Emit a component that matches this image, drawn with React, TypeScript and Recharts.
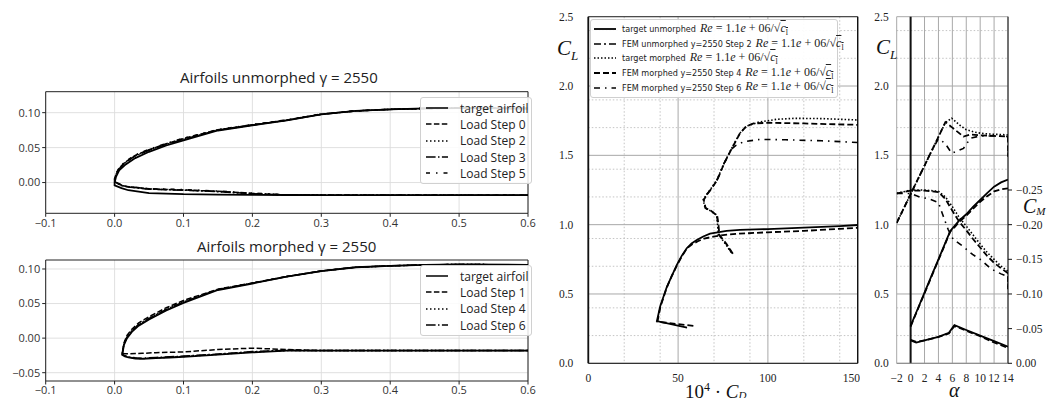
import React from 'react'
import { LineChart, Line, XAxis, YAxis, CartesianGrid, ReferenceLine } from 'recharts'

// ---------- airfoil sections (x/c, y/c) ----------
const unmUpperX = [0.6, 0.5, 0.45, 0.4, 0.35, 0.3, 0.25, 0.2, 0.15, 0.1, 0.075, 0.05, 0.03, 0.015, 0.007, 0.002, 0]
const unmLowerX = [0, 0.01, 0.02, 0.05, 0.1, 0.15, 0.2, 0.25, 0.3, 0.6]

const unmTargetUp = [0.106, 0.1065, 0.106, 0.1047, 0.1025, 0.0976, 0.089, 0.082, 0.0745, 0.0605, 0.053, 0.044, 0.035, 0.025, 0.018, 0.008, 0]
const unmTargetLo = [-0.004, -0.008, -0.011, -0.015, -0.0167, -0.0172, -0.0176, -0.0178, -0.018, -0.018]
const step0Up = [0.106, 0.1065, 0.106, 0.1047, 0.1025, 0.0978, 0.0895, 0.0825, 0.0755, 0.063, 0.0555, 0.047, 0.039, 0.029, 0.021, 0.012, 0.005]
const step0Lo = [0.002, -0.004, -0.006, -0.009, -0.0105, -0.0125, -0.0155, -0.0178, -0.018, -0.018]
const step2Up = [0.106, 0.1065, 0.106, 0.1047, 0.1025, 0.0978, 0.0893, 0.0823, 0.0752, 0.0625, 0.055, 0.0465, 0.0385, 0.0285, 0.0205, 0.0115, 0.005]
const step2Lo = [0.002, -0.0042, -0.0062, -0.0092, -0.0108, -0.0128, -0.0158, -0.0178, -0.018, -0.018]
const step3Up = [0.106, 0.1065, 0.106, 0.1047, 0.1025, 0.0977, 0.0892, 0.0822, 0.075, 0.062, 0.0545, 0.046, 0.038, 0.028, 0.02, 0.011, 0.004]
const step3Lo = [0.001, -0.0045, -0.0065, -0.0095, -0.011, -0.013, -0.016, -0.0178, -0.018, -0.018]
const step5Up = [0.106, 0.1065, 0.106, 0.1047, 0.1025, 0.0979, 0.0896, 0.0828, 0.0758, 0.0635, 0.056, 0.0475, 0.0395, 0.0295, 0.0215, 0.0125, 0.006]
const step5Lo = [0.003, -0.0038, -0.0058, -0.0088, -0.0102, -0.0122, -0.0152, -0.0175, -0.018, -0.018]

const morUpperX = [0.6, 0.5, 0.45, 0.4, 0.35, 0.3, 0.25, 0.2, 0.15, 0.1, 0.075, 0.05, 0.035, 0.025, 0.018, 0.0136, 0.011]
const morLowerX = [0.011, 0.015, 0.02, 0.03, 0.04, 0.06, 0.08, 0.1, 0.15, 0.2, 0.25, 0.3, 0.6]

const morTargetUp = [0.106, 0.1065, 0.106, 0.1045, 0.1025, 0.097, 0.0888, 0.079, 0.0696, 0.051, 0.04, 0.027, 0.018, 0.009, 0.0, -0.0097, -0.024]
const morTargetLo = [-0.024, -0.0265, -0.028, -0.0295, -0.03, -0.029, -0.028, -0.027, -0.024, -0.0207, -0.018, -0.018, -0.018]
const step1Up = [0.106, 0.1065, 0.106, 0.1045, 0.1025, 0.0972, 0.0892, 0.0798, 0.0708, 0.0545, 0.044, 0.031, 0.022, 0.013, 0.004, -0.007, -0.022]
const step1Lo = [-0.022, -0.0225, -0.0225, -0.0223, -0.022, -0.021, -0.0205, -0.02, -0.0165, -0.0145, -0.0165, -0.018, -0.018]
const step4Up = [0.106, 0.1065, 0.106, 0.1045, 0.1025, 0.0971, 0.089, 0.0794, 0.0702, 0.053, 0.042, 0.029, 0.02, 0.011, 0.002, -0.008, -0.023]
const step4Lo = [-0.023, -0.026, -0.0275, -0.029, -0.0295, -0.0285, -0.0275, -0.0265, -0.0235, -0.02, -0.018, -0.018, -0.018]
const step6Up = [0.106, 0.1065, 0.106, 0.1045, 0.1025, 0.0971, 0.0891, 0.0796, 0.0705, 0.0525, 0.0415, 0.0285, 0.0195, 0.0105, 0.0015, -0.0085, -0.023]
const step6Lo = [-0.023, -0.0255, -0.027, -0.0285, -0.029, -0.028, -0.027, -0.026, -0.023, -0.0195, -0.0175, -0.018, -0.018]

const foilXTicks = [-0.1, 0, 0.1, 0.2, 0.3, 0.4, 0.5, 0.6]
const foilTopYTicks = [0, 0.05, 0.1]
const foilBotYTicks = [-0.05, 0, 0.05, 0.1]

// ---------- drag polar (10^4 CD, CL) ----------
const polUnmTargetCD = [55, 38.2, 40, 43.7, 46.5, 49.3, 52, 54.8, 57.5, 60.4, 64, 67.8, 72, 77, 84.4, 100, 120, 140, 160]
const polUnmTargetCL = [0.257, 0.305, 0.41, 0.55, 0.63, 0.71, 0.775, 0.83, 0.865, 0.89, 0.915, 0.935, 0.945, 0.955, 0.962, 0.968, 0.978, 0.99, 1.005]
const polUnmFemCD = [58.5, 38.5, 40.2, 43.8, 46.5, 49.5, 52.2, 55, 58, 61, 64.5, 69.6, 75, 84, 100, 120, 140, 160]
const polUnmFemCL = [0.27, 0.3, 0.41, 0.55, 0.63, 0.71, 0.775, 0.83, 0.86, 0.88, 0.9, 0.913, 0.925, 0.935, 0.945, 0.955, 0.97, 0.985]
const polMorTargetCD = [79.5, 76.1, 72.4, 72, 71.5, 68, 65, 64, 66, 67.8, 71.5, 75.5, 79.4, 84.4, 88, 95, 105, 115, 130, 150, 165]
const polMorTargetCL = [0.8, 0.866, 0.93, 1.0, 1.07, 1.1, 1.12, 1.18, 1.22, 1.25, 1.32, 1.44, 1.54, 1.66, 1.71, 1.74, 1.76, 1.767, 1.765, 1.755, 1.75]
const polStep4CD = [80.5, 77, 73, 72.5, 71.8, 68.3, 65.3, 64.3, 66.2, 68, 71.7, 75.6, 79.5, 84.5, 88, 92, 100, 120, 150, 165]
const polStep4CL = [0.79, 0.86, 0.925, 0.995, 1.065, 1.1, 1.12, 1.18, 1.22, 1.25, 1.32, 1.44, 1.54, 1.66, 1.71, 1.73, 1.735, 1.73, 1.72, 1.715]
const polStep6CD = [80, 76.5, 72.8, 72.2, 71.6, 68.1, 65.2, 64.2, 66.1, 67.9, 71.6, 75.5, 79.4, 82, 86.5, 95.5, 110, 130, 150, 165]
const polStep6CL = [0.795, 0.862, 0.928, 0.998, 1.068, 1.1, 1.12, 1.18, 1.22, 1.25, 1.32, 1.44, 1.54, 1.57, 1.598, 1.615, 1.612, 1.605, 1.593, 1.585]

const polXTicks = [0, 50, 100, 150]
const polXMinor = [10, 20, 30, 40, 60, 70, 80, 90, 110, 120, 130, 140]
const clTicks = [0, 0.5, 1.0, 1.5, 2.0, 2.5]
const clMinor = [0.1, 0.2, 0.3, 0.4, 0.6, 0.7, 0.8, 0.9, 1.1, 1.2, 1.3, 1.4, 1.6, 1.7, 1.8, 1.9, 2.1, 2.2, 2.3, 2.4]

// ---------- lift / moment vs alpha ----------
const aUnm = [0, 1, 2, 3, 4, 5, 5.7, 6.3, 7, 8, 9, 10, 11, 12, 13, 14]
const clUnmTarget = [0.27, 0.39, 0.51, 0.63, 0.75, 0.87, 0.955, 0.99, 1.03, 1.075, 1.13, 1.178, 1.228, 1.274, 1.305, 1.325]
const clUnmFem = [0.265, 0.385, 0.505, 0.625, 0.745, 0.865, 0.95, 0.98, 1.02, 1.065, 1.115, 1.165, 1.205, 1.24, 1.255, 1.262]
const aMor = [-2, -1, 0, 1, 2, 3, 4, 5, 5.9, 7, 8, 9, 10, 11, 12, 13, 14]
const clMorTarget = [1.013, 1.116, 1.22, 1.323, 1.426, 1.53, 1.633, 1.736, 1.768, 1.72, 1.685, 1.67, 1.66, 1.655, 1.652, 1.65, 1.647]
const aStep4 = [-2, -1, 0, 1, 2, 3, 4, 5, 6, 7.6, 8.6, 10, 12, 14, 14]
const clStep4 = [1.013, 1.116, 1.22, 1.323, 1.426, 1.53, 1.633, 1.74, 1.7, 1.635, 1.65, 1.645, 1.64, 1.635, 1.49]
const aStep6 = [-2, -1, 0, 1, 2, 3, 4, 4.95, 5.9, 7.6, 8.6, 10, 12, 14, 14]
const clStep6 = [1.013, 1.116, 1.22, 1.323, 1.426, 1.53, 1.62, 1.587, 1.515, 1.55, 1.623, 1.64, 1.64, 1.635, 1.5]

const aCmUnm = [0, 0.8, 2, 4, 5.5, 6.3, 8, 10, 12, 14]
const cmUnmTarget = [-0.033, -0.03, -0.033, -0.038, -0.044, -0.055, -0.048, -0.04, -0.032, -0.024]
const cmUnmFem = [-0.034, -0.031, -0.033, -0.038, -0.043, -0.054, -0.047, -0.039, -0.03, -0.022]
const aCmMor = [-2, 0, 2, 4, 5, 6, 7, 8, 9, 10, 11, 12, 13, 14, 14]
const cmMorTarget = [-0.245, -0.25, -0.25, -0.248, -0.24, -0.226, -0.21, -0.198, -0.185, -0.172, -0.16, -0.15, -0.14, -0.133, -0.11]
const cmStep4 = [-0.245, -0.249, -0.249, -0.247, -0.237, -0.22, -0.204, -0.192, -0.179, -0.167, -0.155, -0.145, -0.137, -0.13, -0.107]
const aCmStep6 = [-2, 0, 1.3, 2.7, 4, 4.7, 5.4, 6.1, 7.5, 8.9, 10, 11.6, 13, 14, 14]
const cmStep6 = [-0.245, -0.245, -0.24, -0.237, -0.232, -0.212, -0.193, -0.179, -0.169, -0.157, -0.15, -0.136, -0.129, -0.125, -0.11]

const alphaTicks = [-2, 0, 2, 4, 6, 8, 10, 12, 14]
const cmTicks = [-0.25, -0.2, -0.15, -0.1, -0.05, 0]

const pts = (xs: number[], ys: number[]) => xs.map((x, i) => ({ x, y: ys[i] }))
const foil = (ux: number[], uy: number[], lx: number[], ly: number[]) => [...pts(ux, uy), ...pts(lx, ly)]
const minus = (s: string) => s.replace('-', '\u2212')

const SANS = 'Open Sans'
const SERIF = 'Liberation Serif'

const foilTick = { fontSize: 11, fill: '#333', fontFamily: SANS }
const serifTick = { fontSize: 11.5, fill: '#222', fontFamily: SERIF }

function Sample({ dash, width = 1.5 }: { dash?: string; width?: number }) {
  return (
    <svg width={22} height={8} style={{ display: 'block' }}>
      <line x1={0} y1={4} x2={22} y2={4} stroke="#000" strokeWidth={width} strokeDasharray={dash} />
    </svg>
  )
}

function FoilLegend({ top, rows }: { top: number; rows: { label: string; dash?: string; w?: number }[] }) {
  return (
    <div style={{ position: 'absolute', left: 420, top, width: 110, padding: '2px 0', background: 'rgba(255,255,255,0.85)', border: '1px solid #d0d0d0', borderRadius: 3, fontFamily: SANS, fontSize: 12, color: '#222' }}>
      {rows.map(r => (
        <div key={r.label} style={{ display: 'flex', alignItems: 'center', height: 16.3 }}>
          <div style={{ marginLeft: 5, marginRight: 12 }}><Sample dash={r.dash} width={r.w} /></div>
          <span>{r.label}</span>
        </div>
      ))}
    </div>
  )
}

const DASH = '5.5 2.4'
const DOT = '1.5 2.5'
const DASHDOT = '9.6 2.4 1.5 2.4'
const SPARSE = '4 6 1.5 6'

function FoilPanel(props: { top: number; height: number; plotTop: number; plotH: number; domain: [number, number]; yTicks: number[]; series: { d: { x: number; y: number }[]; dash?: string; w: number }[] }) {
  const { top, height, plotTop, plotH, domain, yTicks, series } = props
  return (
    <div style={{ position: 'absolute', left: 0, top }}>
      <LineChart width={545} height={height} margin={{ top: plotTop, right: 17, bottom: 0, left: 0 }}>
        <CartesianGrid stroke="#dcdcdc" strokeWidth={0.9} verticalValues={foilXTicks} horizontalValues={yTicks} syncWithTicks={false} />
        <XAxis type="number" dataKey="x" domain={[-0.1, 0.6]} ticks={foilXTicks} allowDataOverflow height={height - plotTop - plotH}
          tick={foilTick} tickFormatter={(v: number) => minus(v.toFixed(1))} tickSize={3.5} tickMargin={2} stroke="#222" />
        <YAxis type="number" domain={domain} ticks={yTicks} allowDataOverflow width={45.7}
          tick={foilTick} tickFormatter={(v: number) => minus(v.toFixed(2))} tickSize={3.5} tickMargin={2} stroke="#222" />
        <ReferenceLine y={domain[1]} stroke="#222" />
        <ReferenceLine x={0.6} stroke="#222" />
        {series.map((s, i) => (
          <Line key={i} data={s.d} dataKey="y" stroke="#000" strokeWidth={s.w} strokeDasharray={s.dash} dot={false} isAnimationActive={false} />
        ))}
      </LineChart>
    </div>
  )
}

const S_TU = { dash: undefined, w: 1.8 }
const S_F2 = { dash: '7 3 2 3', w: 1.6 }
const S_TM = { dash: '1.5 2', w: 1.6 }
const S_F4 = { dash: '6 3', w: 1.8 }
const S_F6 = { dash: '6 5 1.5 5', w: 1.6 }

function PolarLegend() {
  const math = <span style={{ fontFamily: SERIF, fontSize: 12 }}><i>Re</i> = 1.1<i>e</i> + 06/√<span style={{ textDecoration: 'overline' }}><i>c</i><sub style={{ fontSize: 8 }}>l</sub></span></span>
  const rows = [
    { label: 'target unmorphed', s: S_TU },
    { label: 'FEM unmorphed y=2550 Step 2', s: S_F2 },
    { label: 'target morphed', s: S_TM },
    { label: 'FEM morphed y=2550 Step 4', s: S_F4 },
    { label: 'FEM morphed y=2550 Step 6', s: S_F6 },
  ]
  return (
    <div style={{ position: 'absolute', left: 590, top: 19, width: 248, height: 79, boxSizing: 'border-box', paddingTop: 2, background: 'rgba(255,255,255,0.92)', border: '1px solid #cfcfcf', borderRadius: 3, color: '#222' }}>
      {rows.map(r => (
        <div key={r.label} style={{ display: 'flex', alignItems: 'center', height: 14.6, whiteSpace: 'nowrap' }}>
          <div style={{ marginLeft: 3, marginRight: 6 }}><Sample dash={r.s.dash} width={r.s.w} /></div>
          <span style={{ fontFamily: 'DejaVu Sans', fontSize: 8.1, marginRight: 4 }}>{r.label}</span>
          {math}
        </div>
      ))}
    </div>
  )
}

const lbl = (left: number, top: number, size: number, content: React.ReactNode, lh: string | number = 1) => (
  <div style={{ position: 'absolute', left, top, fontFamily: SERIF, fontSize: size, lineHeight: lh, color: '#111', whiteSpace: 'nowrap' }}>{content}</div>
)

export default function App() {
  const unmSeries = [
    { d: foil(unmUpperX, step0Up, unmLowerX, step0Lo), dash: DASH, w: 1.5 },
    { d: foil(unmUpperX, step2Up, unmLowerX, step2Lo), dash: DOT, w: 1.5 },
    { d: foil(unmUpperX, step3Up, unmLowerX, step3Lo), dash: DASHDOT, w: 1.5 },
    { d: foil(unmUpperX, step5Up, unmLowerX, step5Lo), dash: SPARSE, w: 1.6 },
    { d: foil(unmUpperX, unmTargetUp, unmLowerX, unmTargetLo), dash: undefined, w: 1.8 },
  ]
  const morSeries = [
    { d: foil(morUpperX, step1Up, morLowerX, step1Lo), dash: DASH, w: 1.5 },
    { d: foil(morUpperX, step4Up, morLowerX, step4Lo), dash: DOT, w: 1.5 },
    { d: foil(morUpperX, step6Up, morLowerX, step6Lo), dash: DASHDOT, w: 1.5 },
    { d: foil(morUpperX, morTargetUp, morLowerX, morTargetLo), dash: undefined, w: 1.8 },
  ]

  return (
    <div style={{ position: 'absolute', left: 0, top: 0, width: 1049, height: 398, background: '#fff', overflow: 'hidden' }}>
      <div style={{ position: 'absolute', left: 180, top: 67, fontFamily: SANS, fontSize: 15, color: '#222' }}>Airfoils unmorphed γ = 2550</div>
      <div style={{ position: 'absolute', left: 197, top: 236, fontFamily: SANS, fontSize: 15, color: '#222' }}>Airfoils morphed γ = 2550</div>

      <FoilPanel top={85} height={160} plotTop={6.7} plotH={121.6} domain={[-0.044, 0.13]} yTicks={foilTopYTicks} series={unmSeries} />
      <FoilPanel top={250} height={148} plotTop={10} plotH={121} domain={[-0.062, 0.113]} yTicks={foilBotYTicks} series={morSeries} />

      <FoilLegend top={97} rows={[
        { label: 'target airfoil' }, { label: 'Load Step 0', dash: DASH }, { label: 'Load Step 2', dash: DOT },
        { label: 'Load Step 3', dash: DASHDOT }, { label: 'Load Step 5', dash: SPARSE },
      ]} />
      <FoilLegend top={265} rows={[
        { label: 'target airfoil' }, { label: 'Load Step 1', dash: DASH }, { label: 'Load Step 4', dash: DOT },
        { label: 'Load Step 6', dash: DASHDOT },
      ]} />

      {/* drag polar */}
      <div style={{ position: 'absolute', left: 540, top: 0 }}>
        <LineChart width={320} height={398} margin={{ top: 16.7, right: 2.3, bottom: 0, left: 0 }}>
          <CartesianGrid stroke="#b5b5b5" strokeWidth={0.8} strokeDasharray="1.5 2" verticalValues={polXMinor} horizontalValues={clMinor} syncWithTicks={false} />
          <CartesianGrid stroke="#a8a8a8" strokeWidth={1} verticalValues={polXTicks} horizontalValues={clTicks} syncWithTicks={false} />
          <XAxis type="number" dataKey="x" domain={[0, 150]} ticks={polXTicks} allowDataOverflow height={34.7}
            tick={serifTick} tickLine={false} tickMargin={5} stroke="#111" />
          <YAxis type="number" domain={[0, 2.5]} ticks={clTicks} allowDataOverflow width={48.3}
            tick={serifTick} tickFormatter={(v: number) => v.toFixed(1)} tickLine={false} tickMargin={9} stroke="#111" strokeWidth={1.8} />
          <ReferenceLine y={2.5} stroke="#333" />
          <ReferenceLine x={150} stroke="#111" strokeWidth={1.4} />
          <Line data={pts(polUnmFemCD, polUnmFemCL)} dataKey="y" stroke="#000" strokeWidth={S_F4.w} strokeDasharray="6 3" dot={false} isAnimationActive={false} />
          <Line data={pts(polUnmTargetCD, polUnmTargetCL)} dataKey="y" stroke="#000" strokeWidth={S_TU.w} dot={false} isAnimationActive={false} />
          <Line data={pts(polStep6CD, polStep6CL)} dataKey="y" stroke="#000" strokeWidth={S_F6.w} strokeDasharray={S_F6.dash} dot={false} isAnimationActive={false} />
          <Line data={pts(polStep4CD, polStep4CL)} dataKey="y" stroke="#000" strokeWidth={S_F4.w} strokeDasharray={S_F4.dash} dot={false} isAnimationActive={false} />
          <Line data={pts(polMorTargetCD, polMorTargetCL)} dataKey="y" stroke="#000" strokeWidth={S_TM.w} strokeDasharray={S_TM.dash} dot={false} isAnimationActive={false} />
        </LineChart>
      </div>
      <PolarLegend />
      {lbl(557, 38, 21, <i>C<sub style={{ fontSize: 13 }}>L</sub></i>)}
      {lbl(685, 377, 19, <span>10<sup style={{ fontSize: 12 }}>4</sup> · <i>C<sub style={{ fontSize: 11, verticalAlign: '-0.1em' }}>D</sub></i></span>, '20px')}

      {/* lift and moment vs alpha */}
      <div style={{ position: 'absolute', left: 860, top: 0 }}>
        <LineChart width={189} height={398} margin={{ top: 16.7, right: 0, bottom: 0, left: 0 }}>
          <CartesianGrid yAxisId="cl" stroke="#b5b5b5" strokeWidth={0.8} strokeDasharray="1.5 2" vertical={false} horizontalValues={clMinor} syncWithTicks={false} />
          <CartesianGrid yAxisId="cl" stroke="#a8a8a8" strokeWidth={1} verticalValues={alphaTicks} horizontalValues={clTicks} syncWithTicks={false} />
          <XAxis type="number" dataKey="x" domain={[-2, 14]} ticks={alphaTicks} allowDataOverflow height={34.7}
            tick={serifTick} tickFormatter={(v: number) => minus(String(v))} tickLine={false} tickMargin={5} stroke="#888" interval={0} />
          <YAxis yAxisId="cl" type="number" domain={[0, 2.5]} ticks={clTicks} allowDataOverflow width={36.7}
            tick={serifTick} tickFormatter={(v: number) => v.toFixed(1)} tickLine={false} tickMargin={2} axisLine={false} />
          <YAxis yAxisId="cm" orientation="right" type="number" domain={[-0.5, 0]} reversed ticks={cmTicks} allowDataOverflow width={41}
            tick={serifTick} tickFormatter={(v: number) => minus(v.toFixed(2))} tickSize={4} tickMargin={4} stroke="#111" interval={0} />
          <ReferenceLine yAxisId="cl" x={0} stroke="#111" strokeWidth={2} />
          <Line yAxisId="cl" data={pts(aUnm, clUnmFem)} dataKey="y" stroke="#000" strokeWidth={S_F4.w} strokeDasharray="6 3" dot={false} isAnimationActive={false} />
          <Line yAxisId="cl" data={pts(aUnm, clUnmTarget)} dataKey="y" stroke="#000" strokeWidth={S_TU.w} dot={false} isAnimationActive={false} />
          <Line yAxisId="cl" data={pts(aStep6, clStep6)} dataKey="y" stroke="#000" strokeWidth={S_F6.w} strokeDasharray={S_F6.dash} dot={false} isAnimationActive={false} />
          <Line yAxisId="cl" data={pts(aStep4, clStep4)} dataKey="y" stroke="#000" strokeWidth={S_F4.w} strokeDasharray={S_F4.dash} dot={false} isAnimationActive={false} />
          <Line yAxisId="cl" data={pts(aMor, clMorTarget)} dataKey="y" stroke="#000" strokeWidth={S_TM.w} strokeDasharray={S_TM.dash} dot={false} isAnimationActive={false} />
          <Line yAxisId="cm" data={pts(aCmUnm, cmUnmFem)} dataKey="y" stroke="#000" strokeWidth={S_F4.w} strokeDasharray="6 3" dot={false} isAnimationActive={false} />
          <Line yAxisId="cm" data={pts(aCmUnm, cmUnmTarget)} dataKey="y" stroke="#000" strokeWidth={S_TU.w} dot={false} isAnimationActive={false} />
          <Line yAxisId="cm" data={pts(aCmStep6, cmStep6)} dataKey="y" stroke="#000" strokeWidth={S_F6.w} strokeDasharray={S_F6.dash} dot={false} isAnimationActive={false} />
          <Line yAxisId="cm" data={pts(aCmMor, cmStep4)} dataKey="y" stroke="#000" strokeWidth={S_F4.w} strokeDasharray={S_F4.dash} dot={false} isAnimationActive={false} />
          <Line yAxisId="cm" data={pts(aCmMor, cmMorTarget)} dataKey="y" stroke="#000" strokeWidth={S_TM.w} strokeDasharray={S_TM.dash} dot={false} isAnimationActive={false} />
        </LineChart>
      </div>
      {lbl(876, 37, 21, <i>C<sub style={{ fontSize: 13 }}>L</sub></i>)}
      {lbl(1023, 196, 20, <i>C<sub style={{ fontSize: 11, verticalAlign: '-0.15em' }}>M</sub></i>)}
      {lbl(949, 384, 20, <i>α</i>, '12px')}
    </div>
  )
}
